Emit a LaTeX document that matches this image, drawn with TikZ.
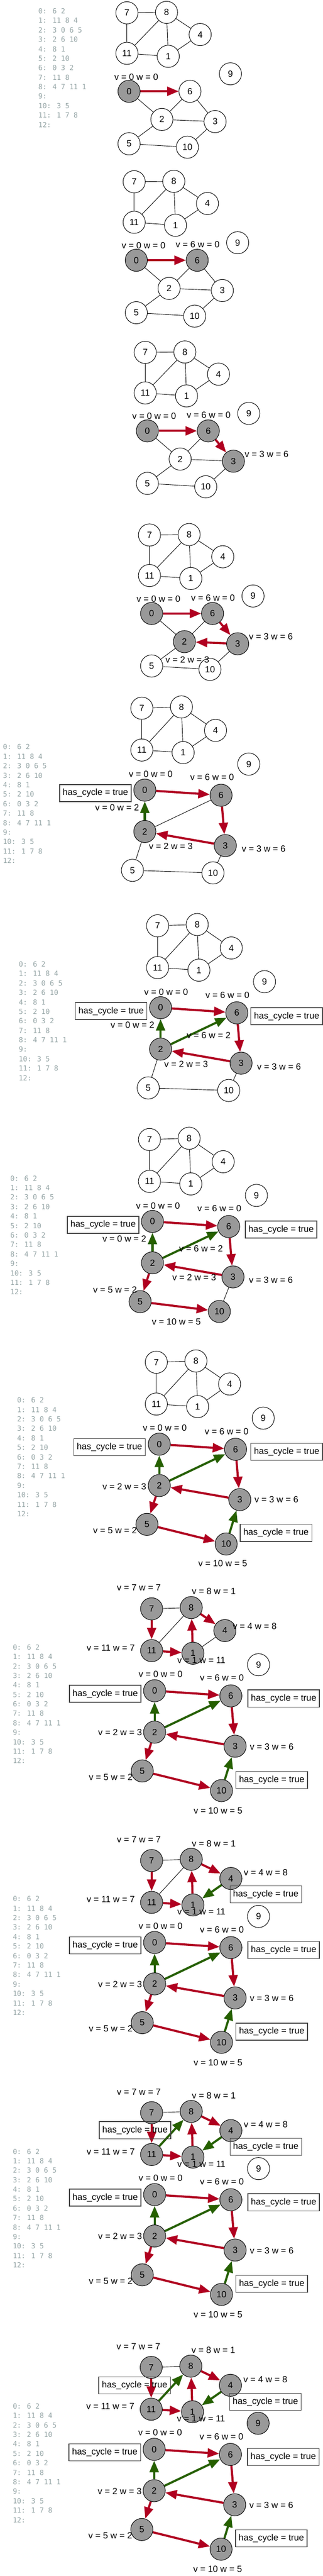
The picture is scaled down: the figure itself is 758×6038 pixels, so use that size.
\documentclass[tikz,border=0pt]{standalone}
\usepackage{fontspec}
\setmainfont{Liberation Sans}
\newfontfamily\monofont{DejaVu Sans Mono}
\usetikzlibrary{arrows.meta}
\pgfdeclarelayer{back}
\pgfdeclarelayer{bg}
\pgfsetlayers{back,bg,main}
\definecolor{cred}{RGB}{176,0,32}
\definecolor{cgreen}{RGB}{38,96,0}
\definecolor{vgray}{RGB}{153,153,153}
\definecolor{adjgray}{RGB}{149,165,166}
\definecolor{boxgray}{RGB}{68,68,68}
\newcommand\lblfont{\fontsize{21}{25}\selectfont}
\newcommand\adjfont{\monofont\fontsize{16.5}{22}\selectfont}
\tikzset{
  vnode/.style={circle, draw=black, line width=1.2pt, minimum size=52pt, inner sep=0pt, fill=white, font=\lblfont},
  visited/.style={fill=vgray},
  st0/.style={}, st1/.style={}, st2/.style={}, st3/.style={}, st4/.style={}, st5/.style={},
  st6/.style={}, st7/.style={}, st8/.style={}, st9/.style={}, st10/.style={}, st11/.style={},
  gedge/.style={line width=1.1pt, draw=black},
  redarr/.style={line width=5pt, draw=cred, -{Triangle[length=27pt,width=21pt]}},
  greenarr/.style={line width=5pt, draw=cgreen, -{Triangle[length=27pt,width=21pt]}},
  lbl/.style={font=\lblfont, inner sep=0pt},
  hcbox/.style={draw=boxgray, line width=1.6pt, minimum width=168pt, minimum height=40pt, inner sep=0pt, font=\lblfont},
  adjline/.style={font=\adjfont, text=adjgray, inner sep=0pt, anchor=base west},
}
\newcommand\placeA[1]{%
 \node[vnode,st7] (#17) at (-5,-184) {7};
 \node[vnode,st8] (#18) at (88,-185) {8};
 \node[vnode,st4] (#14) at (167,-133) {4};
 \node[vnode,st11] (#111) at (-5,-89) {11};
 \node[vnode,st1] (#11) at (92,-82) {1};
 \node[vnode,st9] (#19) at (238,-41) {9};
 \node[vnode,st0] (#10) at (0,0) {0};
 \node[vnode,st6] (#16) at (143,0) {6};
 \node[vnode,st2] (#12) at (77,66) {2};
 \node[vnode,st3] (#13) at (202,71) {3};
 \node[vnode,st5] (#15) at (0,123) {5};
 \node[vnode,st10] (#110) at (137,131) {10};
}
\newcommand\placeB[5]{%
 \node[vnode,st7] (#17) at (-7,-192) {7};
 \node[vnode,st8] (#18) at (86,-195) {8};
 \node[vnode,st4] (#14) at (#4,#5) {4};
 \node[vnode,st11] (#111) at (-7,-94) {11};
 \node[vnode,st1] (#11) at (90,-88) {1};
 \node[vnode,st9] (#19) at (244,-61) {9};
 \node[vnode,st0] (#10) at (0,0) {0};
 \node[vnode,st6] (#16) at (179,12) {6};
 \node[vnode,st2] (#12) at (0,97) {2};
 \node[vnode,st3] (#13) at (189,130) {3};
 \node[vnode,st5] (#15) at (-29,188) {5};
 \node[vnode,st10] (#110) at (#2,#3) {10};
}
\newcommand\links[3]{\begin{pgfonlayer}{bg}\foreach \ea/\eb in {#3}{\draw[#2] (#1\ea) -- (#1\eb);}\end{pgfonlayer}}
\newcommand\adjlist[3]{%
 \foreach \t [count=\i from 0] in {{0: 6 2},{1: 11 8 4},{2: 3 0 6 5},{3: 2 6 10},{4: 8 1},{5: 2 10},{6: 0 3 2},{7: 11 8},{8: 4 7 11 1},{9:},{10: 3 5},{11: 1 7 8},{12:}}
   {\node[adjline] (#3\i) at (#1, #2+6+22.2*\i) {\t};}
}
\begin{document}
\begin{tikzpicture}[x=1pt,y=-1pt]
\begin{pgfonlayer}{back}
\fill[white] (0,0) rectangle (758,6038);
\end{pgfonlayer}
\path[use as bounding box] (0,0) rectangle (758,6038);

% ---------- Frame 1
\adjlist{90}{26}{ta}
\begin{scope}[shift={(303,214)}]
 \tikzset{st0/.style={visited}}
 \placeA{a}
 \links{a}{gedge}{0/2,1/11,1/8,1/4,2/3,2/6,2/5,3/6,3/10,4/8,5/10,7/11,7/8,8/11}
 \links{a}{redarr}{0/6}
 \node[lbl] (al1) at (17,-34) {v = 0 w = 0};
\end{scope}

% ---------- Frame 2
\begin{scope}[shift={(320,610)}]
 \tikzset{st0/.style={visited}, st6/.style={visited}}
 \placeA{b}
 \links{b}{gedge}{0/2,1/11,1/8,1/4,2/3,2/6,2/5,3/6,3/10,4/8,5/10,7/11,7/8,8/11}
 \links{b}{redarr}{0/6}
 \node[lbl] (bl1) at (17,-34) {v = 0 w = 0};
 \node[lbl] (bl2) at (144,-37) {v = 6 w = 0};
\end{scope}

% ---------- Frame 3
\begin{scope}[shift={(346,1010)}]
 \tikzset{st0/.style={visited}, st6/.style={visited}, st3/.style={visited}}
 \placeA{c}
 \links{c}{gedge}{0/2,1/11,1/8,1/4,2/3,2/6,2/5,3/10,4/8,5/10,7/11,7/8,8/11}
 \links{c}{redarr}{0/6,6/3}
 \node[lbl] (cl1) at (16,-35) {v = 0 w = 0};
 \node[lbl] (cl2) at (144,-37) {v = 6 w = 0};
 \node[lbl] (cl3) at (280,54) {v = 3 w = 6};
\end{scope}

% ---------- Frame 4
\begin{scope}[shift={(356,1438)}]
 \tikzset{st0/.style={visited}, st6/.style={visited}, st3/.style={visited}, st2/.style={visited}}
 \placeA{d}
 \links{d}{gedge}{0/2,1/11,1/8,1/4,2/6,2/5,3/10,4/8,5/10,7/11,7/8,8/11}
 \links{d}{redarr}{0/6,6/3,3/2}
 \node[lbl] (dl1) at (16,-34) {v = 0 w = 0};
 \node[lbl] (dl2) at (144,-37) {v = 6 w = 0};
 \node[lbl] (dl3) at (280,54) {v = 3 w = 6};
 \node[lbl] (dl4) at (84,108) {v = 2 w = 3};
\end{scope}

% ---------- Frame 5
\adjlist{7}{1751}{te}
\begin{scope}[shift={(340,1852)}]
 \tikzset{st0/.style={visited}, st6/.style={visited}, st3/.style={visited}, st2/.style={visited}}
 \placeB{e}{160}{194}{166}{-140}
 \links{e}{gedge}{1/11,1/8,1/4,2/6,2/5,3/10,4/8,5/10,7/11,7/8,8/11}
 \links{e}{redarr}{0/6,6/3,3/2}
 \links{e}{greenarr}{2/0}
 \node[hcbox] (eb1) at (-116,7) {has\_cycle = true};
 \node[lbl] (el1) at (14,-38) {v = 0 w = 0};
 \node[lbl] (el2) at (158,-30) {v = 6 w = 0};
 \node[lbl] (el3) at (-65,41) {v = 0 w = 2};
 \node[lbl] (el4) at (61,131) {v = 2 w = 3};
 \node[lbl] (el5) at (279,137) {v = 3 w = 6};
\end{scope}

% ---------- Frame 6
\adjlist{44}{2260}{tf}
\begin{scope}[shift={(377,2362)}]
 \tikzset{st0/.style={visited}, st6/.style={visited}, st3/.style={visited}, st2/.style={visited}}
 \placeB{f}{160}{194}{166}{-140}
 \links{f}{gedge}{1/11,1/8,1/4,2/5,3/10,4/8,5/10,7/11,7/8,8/11}
 \links{f}{redarr}{0/6,6/3,3/2}
 \links{f}{greenarr}{2/0,2/6}
 \node[hcbox] (fb1) at (-116,8) {has\_cycle = true};
 \node[hcbox] (fb2) at (296,20) {has\_cycle = true};
 \node[lbl] (fl1) at (13,-37) {v = 0 w = 0};
 \node[lbl] (fl2) at (157,-29) {v = 6 w = 0};
 \node[lbl] (fl3) at (-66,41) {v = 0 w = 2};
 \node[lbl] (fl4) at (113,65) {v = 6 w = 2};
 \node[lbl] (fl5) at (60,132) {v = 2 w = 3};
 \node[lbl] (fl6) at (278,138) {v = 3 w = 6};
\end{scope}

% ---------- Frame 7
\adjlist{24}{2762}{tg}
\begin{scope}[shift={(358,2863)}]
 \tikzset{st0/.style={visited}, st6/.style={visited}, st3/.style={visited}, st2/.style={visited}, st5/.style={visited}, st10/.style={visited}}
 \placeB{g}{157}{211}{166}{-140}
 \links{g}{gedge}{1/11,1/8,1/4,3/10,4/8,7/11,7/8,8/11}
 \links{g}{redarr}{0/6,6/3,3/2,2/5,5/10}
 \links{g}{greenarr}{2/0,2/6}
 \node[hcbox] (gb1) at (-116,8) {has\_cycle = true};
 \node[hcbox] (gb2) at (302,19) {has\_cycle = true};
 \node[lbl] (gl1) at (13,-37) {v = 0 w = 0};
 \node[lbl] (gl2) at (157,-30) {v = 6 w = 0};
 \node[lbl] (gl3) at (-66,41) {v = 0 w = 2};
 \node[lbl] (gl4) at (114,64) {v = 6 w = 2};
 \node[lbl] (gl5) at (98,131) {v = 2 w = 3};
 \node[lbl] (gl6) at (278,137) {v = 3 w = 6};
 \node[lbl] (gl7) at (-88,160) {v = 5 w = 2};
 \node[lbl] (gl8) at (56,235) {v = 10 w = 5};
\end{scope}

% ---------- Frame 8
\adjlist{40}{3282}{th}
\begin{scope}[shift={(374,3385)}]
 \tikzset{st0/.style={visited}, st6/.style={visited}, st3/.style={visited}, st2/.style={visited}, st5/.style={visited}, st10/.style={visited}}
 \placeB{h}{157}{234}{165}{-141}
 \links{h}{gedge}{1/11,1/8,1/4,4/8,7/11,7/8,8/11}
 \links{h}{redarr}{0/6,6/3,3/2,2/5,5/10}
 \links{h}{greenarr}{2/0,2/6,10/3}
 \node[hcbox] (hb1) at (-117,7) {has\_cycle = true};
 \node[hcbox] (hb2) at (299,18) {has\_cycle = true};
 \node[hcbox] (hb3) at (274,208) {has\_cycle = true};
 \node[lbl] (hl1) at (13,-38) {v = 0 w = 0};
 \node[lbl] (hl2) at (158,-30) {v = 6 w = 0};
 \node[lbl] (hl3) at (-82,99) {v = 2 w = 3};
 \node[lbl] (hl4) at (275,130) {v = 3 w = 6};
 \node[lbl] (hl5) at (-104,202) {v = 5 w = 2};
 \node[lbl] (hl6) at (149,280) {v = 10 w = 5};
\end{scope}

% ---------- Frame 9
\adjlist{30}{3861}{ti}
\begin{scope}[shift={(363,3963)}]
 \tikzset{st0/.style={visited}, st6/.style={visited}, st3/.style={visited}, st2/.style={visited}, st5/.style={visited}, st10/.style={visited},
   st7/.style={visited}, st8/.style={visited}, st4/.style={visited}, st11/.style={visited}, st1/.style={visited}}
 \placeB{i}{157}{234}{165}{-141}
 \links{i}{gedge}{1/4,7/8,8/11}
 \links{i}{redarr}{0/6,6/3,3/2,2/5,5/10,7/11,11/1,1/8,8/4}
 \links{i}{greenarr}{2/0,2/6,10/3}
 \node[hcbox] (ib1) at (-116,7) {has\_cycle = true};
 \node[hcbox] (ib2) at (303,18) {has\_cycle = true};
 \node[hcbox] (ib3) at (275,209) {has\_cycle = true};
 \node[lbl] (il1) at (14,-39) {v = 0 w = 0};
 \node[lbl] (il2) at (158,-30) {v = 6 w = 0};
 \node[lbl] (il3) at (-81,98) {v = 2 w = 3};
 \node[lbl] (il4) at (275,131) {v = 3 w = 6};
 \node[lbl] (il5) at (-103,202) {v = 5 w = 2};
 \node[lbl] (il6) at (149,281) {v = 10 w = 5};
 \node[lbl] (il7) at (-37,-242) {v = 7 w = 7};
 \node[lbl] (il8) at (139,-233) {v = 8 w = 1};
 \node[lbl] (il9) at (235,-151) {v = 4 w = 8};
 \node[lbl] (il10) at (-103,-101) {v = 11 w = 7};
 \node[lbl] (il11) at (110,-72) {v = 1 w = 11};
\end{scope}

% ---------- Frame 10
\adjlist{30}{4451}{tj}
\begin{scope}[shift={(363,4553)}]
 \tikzset{st0/.style={visited}, st6/.style={visited}, st3/.style={visited}, st2/.style={visited}, st5/.style={visited}, st10/.style={visited},
   st7/.style={visited}, st8/.style={visited}, st4/.style={visited}, st11/.style={visited}, st1/.style={visited}}
 \placeB{j}{157}{234}{179}{-150}
 \links{j}{gedge}{7/8,8/11}
 \links{j}{redarr}{0/6,6/3,3/2,2/5,5/10,7/11,11/1,1/8,8/4}
 \links{j}{greenarr}{2/0,2/6,10/3,4/1}
 \node[hcbox] (jb1) at (-116,7) {has\_cycle = true};
 \node[hcbox] (jb2) at (303,18) {has\_cycle = true};
 \node[hcbox] (jb3) at (275,209) {has\_cycle = true};
 \node[hcbox] (jb4) at (261,-113) {has\_cycle = true};
 \node[lbl] (jl1) at (14,-39) {v = 0 w = 0};
 \node[lbl] (jl2) at (158,-30) {v = 6 w = 0};
 \node[lbl] (jl3) at (-81,98) {v = 2 w = 3};
 \node[lbl] (jl4) at (275,131) {v = 3 w = 6};
 \node[lbl] (jl5) at (-103,202) {v = 5 w = 2};
 \node[lbl] (jl6) at (149,281) {v = 10 w = 5};
 \node[lbl] (jl7) at (-37,-241) {v = 7 w = 7};
 \node[lbl] (jl8) at (139,-232) {v = 8 w = 1};
 \node[lbl] (jl9) at (261,-164) {v = 4 w = 8};
 \node[lbl] (jl10) at (-103,-101) {v = 11 w = 7};
 \node[lbl] (jl11) at (110,-72) {v = 1 w = 11};
\end{scope}

% ---------- Frame 11
\adjlist{30}{5043}{tk}
\begin{scope}[shift={(363,5144)}]
 \tikzset{st0/.style={visited}, st6/.style={visited}, st3/.style={visited}, st2/.style={visited}, st5/.style={visited}, st10/.style={visited},
   st7/.style={visited}, st8/.style={visited}, st4/.style={visited}, st11/.style={visited}, st1/.style={visited}}
 \placeB{k}{157}{234}{179}{-150}
 \links{k}{gedge}{7/8}
 \links{k}{redarr}{0/6,6/3,3/2,2/5,5/10,7/11,11/1,1/8,8/4}
 \links{k}{greenarr}{2/0,2/6,10/3,4/1,11/8}
 \node[hcbox] (kb1) at (-116,7) {has\_cycle = true};
 \node[hcbox] (kb2) at (303,18) {has\_cycle = true};
 \node[hcbox] (kb3) at (275,209) {has\_cycle = true};
 \node[hcbox] (kb4) at (261,-112) {has\_cycle = true};
 \node[hcbox] (kb5) at (-46,-151) {has\_cycle = true};
 \node[lbl] (kl1) at (14,-39) {v = 0 w = 0};
 \node[lbl] (kl2) at (158,-30) {v = 6 w = 0};
 \node[lbl] (kl3) at (-81,98) {v = 2 w = 3};
 \node[lbl] (kl4) at (275,131) {v = 3 w = 6};
 \node[lbl] (kl5) at (-103,202) {v = 5 w = 2};
 \node[lbl] (kl6) at (149,281) {v = 10 w = 5};
 \node[lbl] (kl7) at (-37,-241) {v = 7 w = 7};
 \node[lbl] (kl8) at (139,-232) {v = 8 w = 1};
 \node[lbl] (kl9) at (261,-164) {v = 4 w = 8};
 \node[lbl] (kl10) at (-103,-101) {v = 11 w = 7};
 \node[lbl] (kl11) at (110,-72) {v = 1 w = 11};
\end{scope}

% ---------- Frame 12
\adjlist{30}{5640}{tl}
\begin{scope}[shift={(362,5741)}]
 \tikzset{st0/.style={visited}, st6/.style={visited}, st3/.style={visited}, st2/.style={visited}, st5/.style={visited}, st10/.style={visited},
   st7/.style={visited}, st8/.style={visited}, st4/.style={visited}, st11/.style={visited}, st1/.style={visited}, st9/.style={visited}}
 \placeB{l}{157}{234}{179}{-150}
 \links{l}{gedge}{7/8}
 \links{l}{redarr}{0/6,6/3,3/2,2/5,5/10,7/11,11/1,1/8,8/4}
 \links{l}{greenarr}{2/0,2/6,10/3,4/1,11/8}
 \node[hcbox] (lb1) at (-116,7) {has\_cycle = true};
 \node[hcbox] (lb2) at (303,18) {has\_cycle = true};
 \node[hcbox] (lb3) at (275,209) {has\_cycle = true};
 \node[hcbox] (lb4) at (261,-111) {has\_cycle = true};
 \node[hcbox] (lb5) at (-46,-150) {has\_cycle = true};
 \node[lbl] (ll1) at (14,-39) {v = 0 w = 0};
 \node[lbl] (ll2) at (158,-30) {v = 6 w = 0};
 \node[lbl] (ll3) at (-81,98) {v = 2 w = 3};
 \node[lbl] (ll4) at (275,131) {v = 3 w = 6};
 \node[lbl] (ll5) at (-103,202) {v = 5 w = 2};
 \node[lbl] (ll6) at (149,281) {v = 10 w = 5};
 \node[lbl] (ll7) at (-37,-241) {v = 7 w = 7};
 \node[lbl] (ll8) at (139,-232) {v = 8 w = 1};
 \node[lbl] (ll9) at (261,-164) {v = 4 w = 8};
 \node[lbl] (ll10) at (-103,-101) {v = 11 w = 7};
 \node[lbl] (ll11) at (110,-72) {v = 1 w = 11};
\end{scope}
\end{tikzpicture}
\end{document}
